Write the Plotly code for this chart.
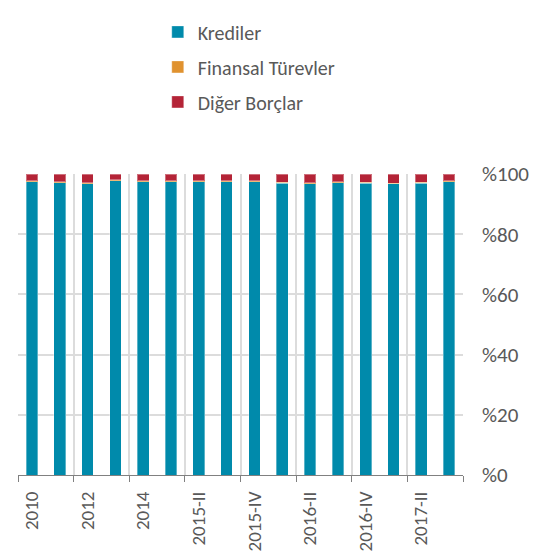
import plotly.graph_objects as go

categories = ["2010", "2011", "2012", "2013", "2014", "2015-I", "2015-II", "2015-III",
              "2015-IV", "2016-I", "2016-II", "2016-III", "2016-IV", "2017-I", "2017-II", "2017-III"]
krediler = [97.5, 97.1, 96.8, 97.7, 97.4, 97.4, 97.5, 97.5, 97.4, 96.9, 96.8, 97.1, 96.9, 96.7, 97.0, 97.5]
turevler = [0.3, 0.3, 0.3, 0.4, 0.3, 0.3, 0.3, 0.3, 0.3, 0.3, 0.3, 0.3, 0.3, 0.3, 0.3, 0.3]
diger = [round(100 - k - t, 1) for k, t in zip(krediler, turevler)]

y_ticks = [0, 20, 40, 60, 80, 100]
y_labels = ["%0", "%20", "%40", "%60", "%80", "%100"]

series = [
    ("Krediler", krediler, "#008AAB"),
    ("Finansal Türevler", turevler, "#E0922F"),
    ("Diğer Borçlar", diger, "#B42437"),
]

FONT = "Calibri, Carlito, Lato, sans-serif"
GRAY = "#595959"

fig = go.Figure()
for i, (name, vals, col) in enumerate(series):
    fig.add_trace(go.Bar(
        x=categories, y=vals, name=name, legendgroup=str(i),
        marker=dict(color=col, line=dict(color="rgba(255,255,255,0.35)", width=1)),
    ))

fig.update_layout(
    width=533, height=549,
    margin=dict(l=10, r=78, t=166, b=82, autoexpand=False),
    barmode="stack", bargap=0.58,
    plot_bgcolor="white", paper_bgcolor="white",
    font=dict(family=FONT, color=GRAY, size=17),
    legend=dict(xref="container", yref="container", x=0.281, y=0.992,
                xanchor="left", yanchor="top",
                traceorder="grouped", tracegroupgap=6,
                font=dict(size=20, color=GRAY, family=FONT)),
    xaxis=dict(type="category", tickangle=-90, tickson="boundaries",
               tickmode="linear", tick0=0, dtick=2, automargin=False,
               ticks="outside", ticklen=6, tickcolor="#808080",
               showline=True, linecolor="#808080", linewidth=1,
               showgrid=True, gridcolor="#DCDCDC", gridwidth=1.5,
               ticklabelstandoff=8,
               tickfont=dict(size=19, color=GRAY, family=FONT)),
    yaxis=dict(range=[0, 100], side="right", tickvals=y_ticks, ticktext=y_labels,
               showgrid=True, gridcolor="#DCDCDC", gridwidth=1.5, automargin=False,
               zeroline=False, ticklabelstandoff=18,
               tickfont=dict(size=21, color=GRAY, family=FONT)),
)

fig.write_html("out.html")
